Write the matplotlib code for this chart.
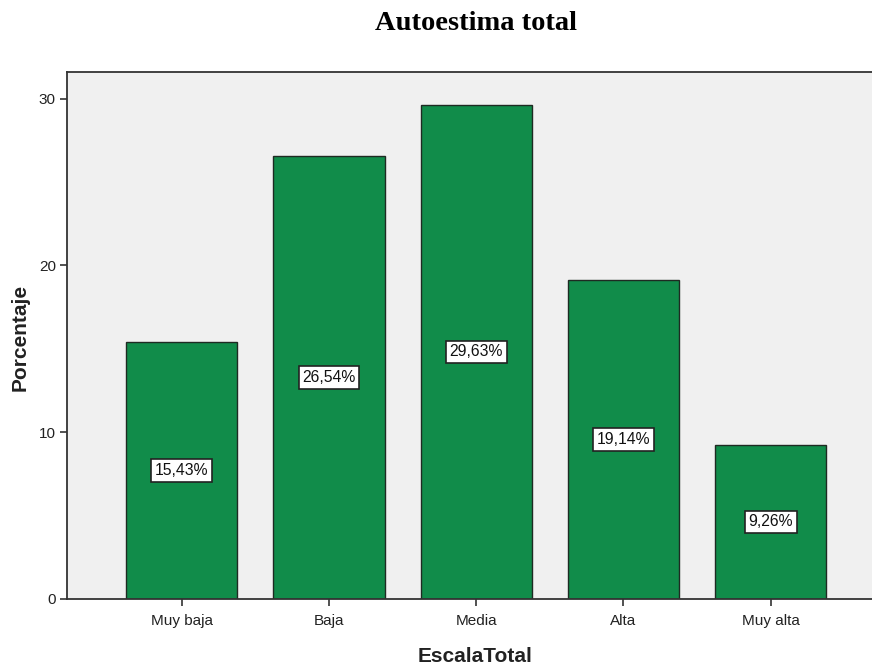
import matplotlib
matplotlib.use("Agg")
import matplotlib.pyplot as plt

categories = ["Muy baja", "Baja", "Media", "Alta", "Muy alta"]
percentages = [15.43, 26.54, 29.63, 19.14, 9.26]
y_ticks = [0, 10, 20, 30]

fig = plt.figure(figsize=(8.72, 6.67), dpi=100)
ax = fig.add_axes([67 / 872, 68 / 667, 1 - 67 / 872 + 0.002, (599 - 72) / 667])
ax.set_facecolor("#F0F0F0")

x = list(range(len(categories)))
ax.bar(x, percentages, width=0.755, color="#118C4A", edgecolor="#1E2A22", linewidth=1.0, zorder=2)

for xi, v in zip(x, percentages):
    ax.text(xi, v / 2, f"{v:.2f}".replace(".", ",") + "%", ha="center", va="center",
            fontsize=11.3, family="Liberation Sans", color="#111111", zorder=3,
            bbox=dict(boxstyle="square,pad=0.24", facecolor="white", edgecolor="#222222", linewidth=1.2))

ax.set_xlim(-0.78, 4.70)
ax.set_ylim(0, 31.6)
ax.set_xticks(x)
ax.set_xticklabels(categories, fontsize=11, family="Liberation Sans", color="#222222")
ax.set_yticks(y_ticks)
ax.set_yticklabels([str(t) for t in y_ticks], fontsize=11, family="Liberation Sans", color="#222222")
ax.tick_params(axis="both", direction="out", length=5, width=1.2, color="#333333", pad=3)
ax.tick_params(axis="x", pad=6)

for side in ("left", "bottom", "top"):
    ax.spines[side].set_color("#333333")
    ax.spines[side].set_linewidth(1.3)
ax.spines["right"].set_visible(False)

fig.text(475 / 872, 1 - 656 / 667, "EscalaTotal", ha="center", va="center",
         fontsize=15, fontweight="bold", family="Liberation Sans", color="#222222")
fig.text(20 / 872, 1 - 337 / 667, "Porcentaje", ha="center", va="center", rotation=90,
         fontsize=15, fontweight="bold", family="Liberation Sans", color="#222222")

fig.text(476 / 872, 1 - 24 / 667, "Autoestima total", ha="center", va="center",
         fontsize=20.5, fontweight="bold", family="Liberation Serif", color="black")

fig.savefig("out.png", dpi=100)
